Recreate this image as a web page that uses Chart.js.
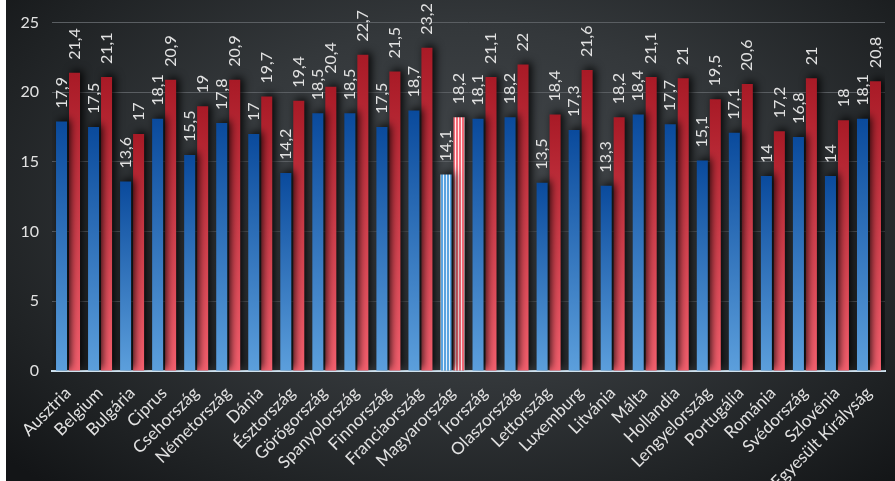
<!DOCTYPE html>
<html>
<head>
<meta charset="utf-8">
<script src="https://cdn.jsdelivr.net/npm/chart.js@4"></script>
<style>
  html, body { margin: 0; padding: 0; background: #fff; }
  #wrap {
    position: absolute; left: 6px; top: 0; width: 889px; height: 481px;
    background: radial-gradient(ellipse 70% 80% at 52% 42%, #45494d 0%, #34383b 45%, #1f2224 80%, #131517 100%);
  }
</style>
</head>
<body>
<div id="wrap"><canvas id="chart" width="889" height="481"></canvas></div>
<script>
const countries = ['Ausztria', 'Belgium', 'Bulgária', 'Ciprus', 'Csehország', 'Németország', 'Dánia',
    'Észtország', 'Görögország', 'Spanyolország', 'Finnország', 'Franciaország', 'Magyarország',
    'Írország', 'Olaszország', 'Lettország', 'Luxemburg', 'Litvánia', 'Málta', 'Hollandia',
    'Lengyelország', 'Portugália', 'Románia', 'Svédország', 'Szlovénia', 'Egyesült Királyság'];
const blueValues = [17.9, 17.5, 13.6, 18.1, 15.5, 17.8, 17, 14.2, 18.5, 18.5, 17.5, 18.7, 14.1,
    18.1, 18.2, 13.5, 17.3, 13.3, 18.4, 17.7, 15.1, 17.1, 14, 16.8, 14, 18.1];
const redValues = [21.4, 21.1, 17, 20.9, 19, 20.9, 19.7, 19.4, 20.4, 22.7, 21.5, 23.2, 18.2,
    21.1, 22, 18.4, 21.6, 18.2, 21.1, 21, 19.5, 20.6, 17.2, 21, 18, 20.8];
const yTicks = [0, 5, 10, 15, 20, 25];
const highlightIndex = countries.indexOf('Magyarország');

function stripes(color) {
    const c = document.createElement('canvas');
    c.width = 3; c.height = 4;
    const g = c.getContext('2d');
    g.fillStyle = color;
    g.fillRect(0, 0, 3, 4);
    g.fillStyle = 'rgba(255,255,255,0.85)';
    g.fillRect(2, 0, 1, 4);
    return g.createPattern(c, 'repeat');
}

function barFill(top, bottom, striped) {
    return function (context) {
        const chart = context.chart;
        if (!chart.chartArea) return bottom;
        if (context.dataIndex === highlightIndex) return striped;
        const y = chart.scales.y;
        const v = context.raw;
        const grad = chart.ctx.createLinearGradient(0, y.getPixelForValue(v), 0, y.getPixelForValue(0));
        grad.addColorStop(0, top);
        grad.addColorStop(1, bottom);
        return grad;
    };
}

const blueStripes = stripes('#5aa3e0');
const redStripes = stripes('#f36b78');

const shadowPlugin = {
    id: 'shadow',
    beforeDatasetsDraw(chart) {
        const ctx = chart.ctx;
        ctx.save();
        ctx.shadowColor = 'rgba(0,0,0,0.9)';
        ctx.shadowBlur = 8;
        ctx.shadowOffsetX = 3;
        ctx.shadowOffsetY = -2;
    },
    afterDatasetsDraw(chart) {
        chart.ctx.restore();
    }
};

const valueLabels = {
    id: 'valueLabels',
    afterDatasetsDraw(chart) {
        const ctx = chart.ctx;
        ctx.save();
        ctx.fillStyle = '#e2e2e2';
        ctx.font = '16px Lato, "Open Sans", sans-serif';
        ctx.textAlign = 'left';
        ctx.textBaseline = 'middle';
        chart.data.datasets.forEach((ds, di) => {
            chart.getDatasetMeta(di).data.forEach((bar, i) => {
                ctx.save();
                ctx.translate(bar.x, bar.y - 13);
                ctx.rotate(-Math.PI / 2);
                ctx.fillText(String(ds.data[i]).replace('.', ','), 0, 0);
                ctx.restore();
            });
        });
        ctx.restore();
    }
};

new Chart(document.getElementById('chart'), {
    type: 'bar',
    data: {
        labels: countries,
        datasets: [{
            data: blueValues,
            backgroundColor: barFill('#0a4a9c', '#5c9fdc', blueStripes),
            categoryPercentage: 0.81,
            barPercentage: 0.85
        }, {
            data: redValues,
            backgroundColor: barFill('#a81a26', '#f4606e', redStripes),
            categoryPercentage: 0.81,
            barPercentage: 0.85
        }]
    },
    options: {
        responsive: false,
        animation: false,
        layout: { padding: { top: 17, right: 10, left: 0, bottom: 0 } },
        plugins: { legend: { display: false }, tooltip: { enabled: false } },
        scales: {
            x: {
                grid: { display: false },
                border: { display: true, color: '#cfe2ef', width: 2 },
                ticks: {
                    color: '#e2e2e2',
                    font: { family: 'Lato, "Open Sans", sans-serif', size: 17 },
                    minRotation: 45, maxRotation: 45, autoSkip: false, padding: 4
                },
                afterFit(scale) { scale.height = 110; }
            },
            y: {
                min: 0, max: 25,
                afterBuildTicks(scale) { scale.ticks = yTicks.map(v => ({ value: v })); },
                grid: { color: '#5a5e62', lineWidth: 1, drawTicks: false },
                border: { display: false },
                ticks: {
                    color: '#e2e2e2',
                    font: { family: 'Lato, "Open Sans", sans-serif', size: 16 },
                    padding: 13
                },
                afterFit(scale) { scale.width = 46; }
            }
        }
    },
    plugins: [shadowPlugin, valueLabels]
});
</script>
</body>
</html>
